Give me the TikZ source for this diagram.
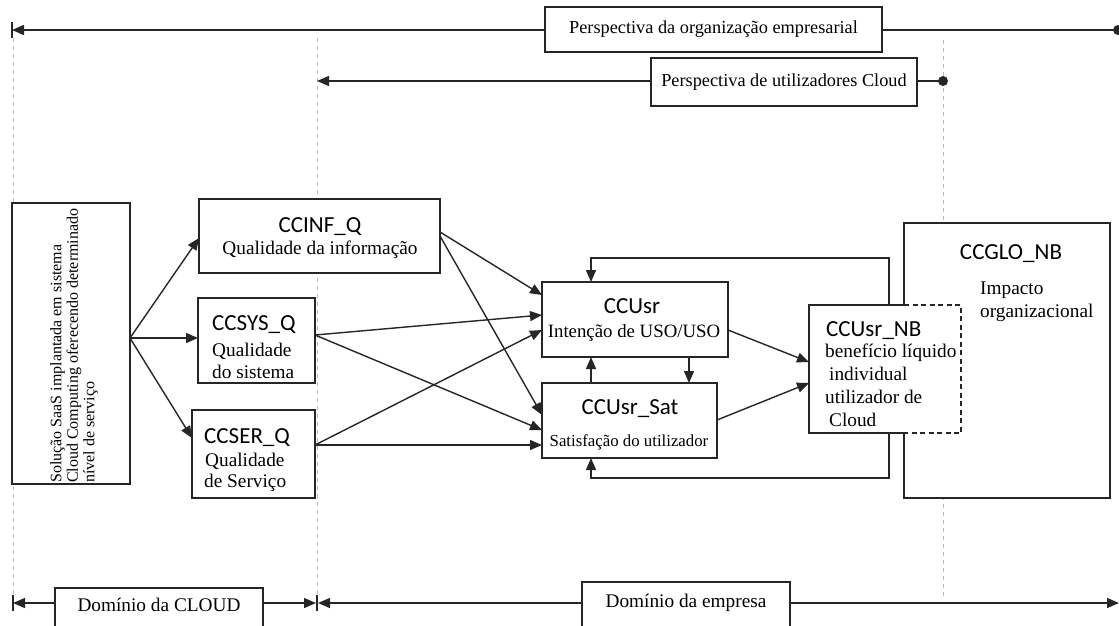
\documentclass[tikz,border=0pt]{standalone}
\usepackage{fontspec}
\setmainfont{Liberation Serif}
\newfontfamily\serf{Liberation Serif}
\newfontfamily\codef{Carlito}
\usetikzlibrary{arrows.meta}
\begin{document}
\begin{tikzpicture}[x=1pt,y=-1pt,
  box/.style={draw=black!85, line width=1.4pt, fill=white, inner sep=0pt, outer sep=0pt},
  bline/.style={draw=black!85, line width=1.4pt},
  arr/.style={bline, -{Triangle[length=12pt,width=10pt]}},
  guide/.style={draw=gray!55, dash pattern=on 4pt off 4pt, line width=0.9pt},
  stxt/.style={font=\serf\fontsize{19.3}{22}\selectfont, inner sep=0pt},
  ctxt/.style={font=\codef\fontsize{23}{26}\selectfont, inner sep=0pt},
  pers/.style={box, font=\serf\fontsize{18.3}{20}\selectfont}]
\path[use as bounding box] (0,0) rectangle (1119,625);
% guide lines
\draw[guide] (13,38) -- (13,598);
\draw[guide] (317,38) -- (317,598);
\draw[guide] (943,40) -- (943,598);
% top perspectives
\node[pers, minimum width=337, minimum height=45] (pe1) at (713.5,29.5) {Perspectiva da organização empresarial};
\coordinate (t1L) at (12,30);
\coordinate (t1R) at (1118,30);
\draw[arr] (pe1.west |- t1L) -- (t1L);
\draw[bline] ([yshift=8pt]t1L) -- ([yshift=-8pt]t1L);
\draw[bline] (pe1.east |- t1R) -- (t1R);
\fill[black!85] (t1R) circle (5pt);
\node[pers, minimum width=266, minimum height=48] (pe2) at (784,82) {Perspectiva de utilizadores Cloud};
\coordinate (t2L) at (317,81);
\coordinate (t2R) at (943,81);
\draw[arr] (pe2.west |- t2L) -- (t2L);
\draw[bline] (pe2.east |- t2R) -- (t2R);
\fill[black!85] (t2R) circle (5pt);
% source box
\node[box, minimum width=118, minimum height=281] (src) at (71,343.5) {};
\node[inner sep=0pt, font=\serf\fontsize{16}{16.5}\selectfont, rotate=90, anchor=north west, align=left] (srct) at (50,483) {Solução SaaS implantada em sistema\\Cloud Computing oferecendo determinado\\nível de serviço};
\coordinate (hub) at ([yshift=5.5pt]src.east);
% quality boxes
\node[box, minimum width=241, minimum height=74] (inf) at (319.5,236) {};
\node[ctxt, anchor=base] (infa) at (320,232) {CCINF\_Q};
\node[stxt, anchor=base] (infb) at (320,254) {Qualidade da informação};
\node[box, minimum width=117, minimum height=85] (sys) at (256.5,340.5) {};
\node[ctxt, anchor=base west] (sysa) at (212,330) {CCSYS\_Q};
\node[stxt, anchor=base west] (sysb) at (212,356) {Qualidade};
\node[stxt, anchor=base west] (sysc) at (212,378) {do sistema};
\node[box, minimum width=123, minimum height=88] (ser) at (253.5,454) {};
\node[ctxt, anchor=base west] (sera) at (204,443) {CCSER\_Q};
\node[stxt, anchor=base west] (serb) at (205,466) {Qualidade};
\node[stxt, anchor=base west] (serc) at (204,487) {de Serviço};
\draw[arr] (hub) -- ([yshift=-2pt]inf.west);
\draw[arr] (hub) -- ([yshift=2.5pt]sys.west);
\draw[arr] (hub) -- ([yshift=16pt]ser.west);
% use boxes
\node[box, minimum width=186, minimum height=75] (usr) at (635,319.5) {};
\node[ctxt, anchor=base] (usra) at (632,313) {CCUsr};
\node[stxt, anchor=base, font=\serf\fontsize{18.8}{22}\selectfont] (usrb) at (634,337) {Intenção de USO/USO};
\node[box, minimum width=175, minimum height=75] (sat) at (629.5,420.5) {};
\node[ctxt, anchor=base] (sata) at (630,414) {CCUsr\_Sat};
\node[stxt, anchor=base, font=\serf\fontsize{16.8}{20}\selectfont] (satb) at (629,446) {Satisfação do utilizador};
% organisational box
\node[box, minimum width=206, minimum height=275] (glo) at (1007,360.5) {};
\node[ctxt, anchor=base] (gloa) at (1011,259) {CCGLO\_NB};
\node[stxt, anchor=base west] (glob) at (980,294) {Impacto};
\node[stxt, anchor=base west] (gloc) at (980,317) {organizacional};
% feedback loops
\node[inner sep=0pt, outer sep=0pt, minimum width=152, minimum height=128] (nb) at (885,369) {};
\coordinate (lx) at (591,0);
\coordinate (rx) at (889,0);
\coordinate (dx) at (689,0);
\coordinate (ly1) at (0,258);
\coordinate (ly2) at (0,478);
\coordinate (nbx) at (904,0);
\draw[arr] (nb.north -| rx) -- (rx |- ly1) -- (lx |- ly1) -- (usr.north -| lx);
\draw[arr] (nb.south -| rx) -- (rx |- ly2) -- (lx |- ly2) -- (sat.south -| lx);
\fill[white] (nb.north west) rectangle (nb.south east);
\draw[bline] (nb.north -| nbx) -- (nb.north west) -- (nb.south west) -- (nb.south -| nbx);
\draw[bline, dash pattern=on 5pt off 3.5pt] (nb.north -| nbx) -- (nb.north east) -- (nb.south east) -- (nb.south -| nbx);
\node[ctxt, anchor=base west] (nba) at (826,336) {CCUsr\_NB};
\node[stxt, anchor=base west] (nbb) at (825,357) {benefício líquido};
\node[stxt, anchor=base west] (nbc) at (829,380) {individual};
\node[stxt, anchor=base west] (nbd) at (825,403) {utilizador de};
\node[stxt, anchor=base west] (nbe) at (829,426) {Cloud};
% arrows between quality and use
\draw[arr] ([yshift=4pt]inf.east) -- ([yshift=24.5pt]usr.west);
\draw[arr] ([yshift=0pt]inf.east) -- ([yshift=5.5pt]sat.west);
\draw[arr] ([yshift=5.5pt]sys.east) -- ([yshift=4.5pt]usr.west);
\draw[arr] ([yshift=5.5pt]sys.east) -- ([yshift=-9.5pt]sat.west);
\draw[arr] ([yshift=9pt]ser.east) -- ([yshift=-10.5pt]usr.west);
\draw[arr] ([yshift=9pt]ser.east) -- ([yshift=-24.5pt]sat.west);
\draw[arr] (sat.north -| lx) -- (usr.south -| lx);
\draw[arr] (usr.south -| dx) -- (sat.north -| dx);
\draw[arr] ([yshift=-10.5pt]usr.east) -- ([yshift=7pt]nb.west);
\draw[arr] ([yshift=0.5pt]sat.east) -- ([yshift=-14pt]nb.west);
% bottom domains
\node[box, anchor=north west, minimum width=208, minimum height=60] (dc) at (55,588) {};
\node[stxt, anchor=base] (dct) at (159,611) {Domínio da CLOUD};
\node[box, anchor=north west, minimum width=208, minimum height=60] (de) at (582,582) {};
\node[stxt, anchor=base] (det) at (686,607) {Domínio da empresa};
\coordinate (bL) at (13,603);
\coordinate (bM) at (317,603);
\coordinate (bR) at (1119,603);
\draw[arr] (dc.west |- bL) -- (bL);
\draw[arr] (dc.east |- bL) -- ([xshift=-1pt]bM);
\draw[arr] (de.west |- bL) -- ([xshift=1pt]bM);
\draw[arr] (de.east |- bL) -- (bR);
\draw[bline] ([yshift=8pt]bL) -- ([yshift=-8pt]bL);
\draw[bline] ([yshift=8pt]bM) -- ([yshift=-8pt]bM);
\end{tikzpicture}
\end{document}
